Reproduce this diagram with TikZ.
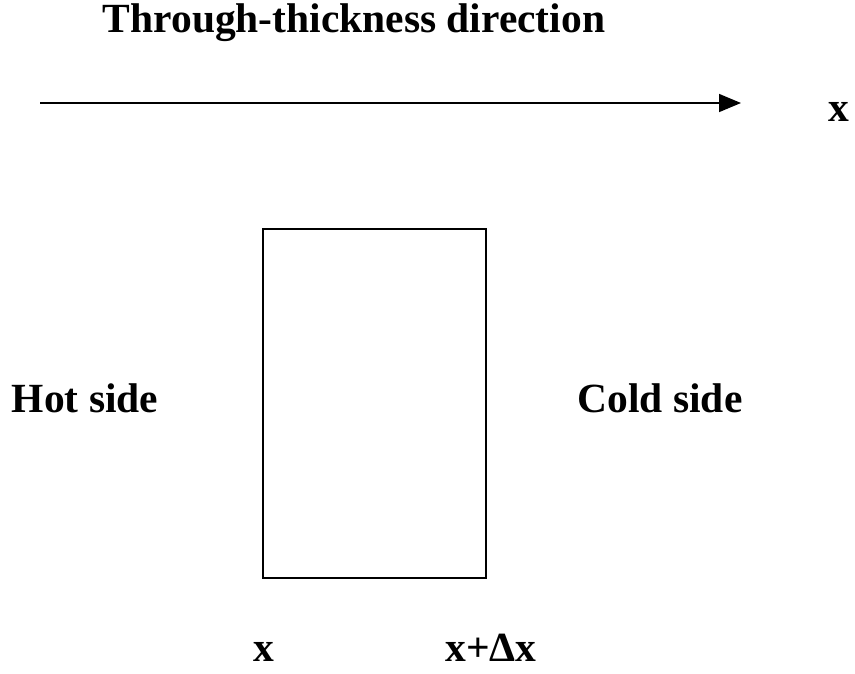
\documentclass[tikz,border=0pt]{standalone}
\usepackage{fontspec}
\setmainfont{Liberation Serif}
\usetikzlibrary{arrows.meta}
\begin{document}
\begin{tikzpicture}[x=1pt,y=-1pt,line width=1.6pt,font=\fontsize{41.5}{41.5}\selectfont\bfseries,lbl/.style={inner sep=0pt,anchor=base}]
\useasboundingbox (0,0) rectangle (855,673);
\node[lbl] (title) at (354,32) {Through-thickness direction};
\coordinate (start) at (40,103);\coordinate (stop) at (741,103);
\draw[-{Triangle[length=22pt,width=18pt]}] (start)--(stop);\node[lbl] (xaxis) at (839,121) {x};
\draw (263,229) rectangle (486,578);
\node[lbl] (hot) at (85,412) {Hot side};\node[lbl] (cold) at (660,412) {Cold side};
\node[lbl] (xleft) at (264,661) {x};\node[lbl] (xright) at (491,661) {x+Δx};
\end{tikzpicture}
\end{document}
